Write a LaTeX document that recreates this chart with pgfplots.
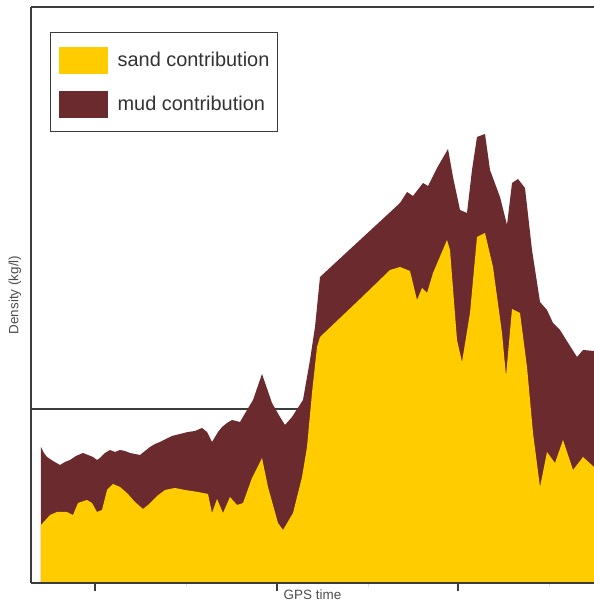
\documentclass[border=0pt]{standalone}
\usepackage{fontspec}
\setmainfont{Liberation Sans}
\usepackage{pgfplots}
\pgfplotsset{compat=1.18}
\definecolor{sand}{RGB}{255,204,0}
\definecolor{mud}{RGB}{107,42,46}
\definecolor{axgray}{RGB}{60,60,60}

\begin{document}
\begin{tikzpicture}
\begin{axis}[
    scale only axis, width=563bp, height=576bp,
    xmin=31, xmax=594, ymin=0, ymax=576,
    clip=false, axis on top,
    axis lines=left, axis line style={-, axgray, line width=1.4bp},
    ytick=\empty,
    xtick={95,277,458}, xticklabels={},
    minor xtick={186,368,549},
    tick align=outside, major tick length=8bp, minor tick length=4bp,
    every tick/.style={axgray, line width=1.2bp},
    every minor tick/.style={gray!25, line width=0.8bp},
    xlabel={GPS time}, ylabel={Density (kg/l)},
    label style={font=\fontsize{13.5}{15}\selectfont, text=black!70},
    xlabel style={at={(axis description cs:0.5,-0.0208)}, anchor=center},
    ylabel style={at={(axis description cs:-0.0284,0.5)}, anchor=center},
    legend style={at={(axis cs:50,551)}, anchor=north west,
        draw=axgray, line width=1.3bp, inner xsep=8bp, inner ysep=14bp,
        row sep=17bp, column sep=10bp, nodes={inner sep=0pt},
        font=\fontsize{20}{24}\selectfont, text=black!80},
    legend cell align=left,
    legend image code/.code={\path[#1] (0bp,-13.5bp) rectangle (49bp,13.5bp);},
]
% reference level
\addplot[axgray, line width=1.3bp, forget plot] coordinates {(31,174) (594,174)};
% total density (mud on top of sand)
\addplot[fill=mud, draw=none, forget plot] coordinates {
    (41,136) (44,130) (47,126) (53,122) (60,118) (65,121) (70,123) (76,127)
    (83,130) (88,128) (93,126) (97,123) (100,125) (105,130) (110,133) (115,131)
    (120,133) (125,132) (130,130) (135,129) (140,128) (145,132) (150,136)
    (155,139) (160,141) (166,144) (172,147) (180,149) (188,151) (195,152)
    (202,155) (207,151) (212,141) (218,151) (222,156) (227,160) (232,163)
    (240,161) (247,173) (253,183) (262,209) (272,180) (280,166) (285,158)
    (292,166) (303,183) (310,223) (315,256) (320,306) (360,343) (400,380)
    (407,391) (413,387) (423,400) (428,397) (437,415) (448,434) (453,406)
    (460,373) (467,370) (472,413) (477,446) (485,449) (490,413) (500,386)
    (507,358) (512,400) (518,404) (525,395) (532,333) (540,281) (547,273)
    (553,260) (560,253) (565,245) (577,226) (583,233) (594,232)
} \closedcycle;
% sand contribution
\addplot[fill=sand, draw=none, forget plot] coordinates {
    (41,58) (50,68) (57,71) (67,71) (73,68) (78,80) (87,83) (92,80) (97,71)
    (102,73) (107,93) (113,99) (120,96) (127,90) (135,81) (143,74) (148,78)
    (157,87) (165,93) (175,95) (185,93) (198,91) (208,89) (212,70) (217,84)
    (223,70) (230,86) (237,78) (243,80) (252,105) (262,125) (268,96) (278,60)
    (283,53) (293,70) (302,106) (307,136) (312,190) (317,236) (320,246)
    (360,284) (390,313) (400,316) (410,312) (417,283) (422,295) (427,290)
    (433,310) (447,343) (450,333) (457,243) (462,221) (470,270) (477,346)
    (485,350) (493,316) (502,250) (506,207) (512,274) (520,270) (527,216)
    (533,150) (540,96) (547,131) (555,120) (563,143) (573,113) (583,126)
    (594,116)
} \closedcycle;
\draw[axgray, line width=1.4bp] (rel axis cs:0,1) -- (rel axis cs:1,1);
\addlegendimage{fill=sand, draw=none}
\addlegendentry{sand contribution}
\addlegendimage{fill=mud, draw=none}
\addlegendentry{mud contribution}
\coordinate (sw) at (rel axis cs:0,0);
\coordinate (ne) at (rel axis cs:1,1);
\end{axis}
\pgfresetboundingbox
\path[use as bounding box] ([xshift=-31bp,yshift=-23bp]sw) rectangle ([yshift=7bp]ne);
\end{tikzpicture}
\end{document}
